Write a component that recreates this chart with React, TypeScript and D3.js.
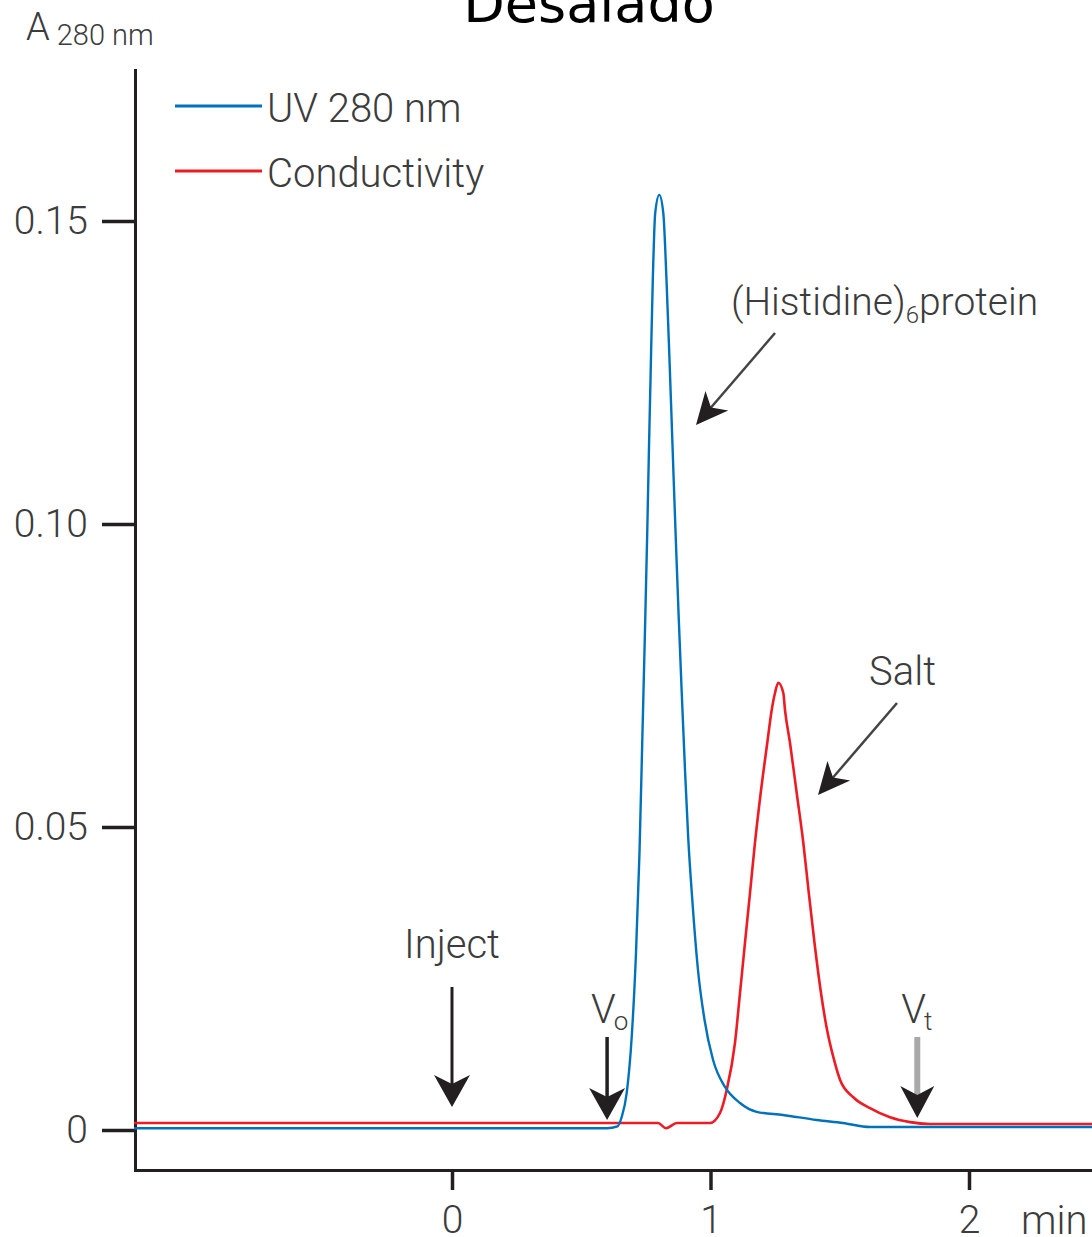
import { useEffect, useRef } from "react";
import * as d3 from "d3";

// UV 280 nm trace (time in min, absorbance)
const uvTime = [-1.23, 0.6, 0.64, 0.6565, 0.6758, 0.6952, 0.7118, 0.7253, 0.7362, 0.7466, 0.7555, 0.7621, 0.7679, 0.7768, 0.7861, 0.8019, 0.8174, 0.8298, 0.8418, 0.8487, 0.8576, 0.8669, 0.8774, 0.8878, 0.9014, 0.9137, 0.9304, 0.9516, 0.9768, 1.0097, 1.0561, 1.1141, 1.1787, 1.2805, 1.4108, 1.5126, 1.617, 1.849, 2.51];
const uvAbs = [0.0003, 0.0003, 0.0006, 0.00215, 0.0061, 0.01535, 0.0292, 0.0457, 0.0644, 0.0825, 0.099, 0.1127, 0.1238, 0.1403, 0.1513, 0.1543, 0.1513, 0.1403, 0.1266, 0.1183, 0.1073, 0.0962, 0.0842, 0.0731, 0.0594, 0.0483, 0.0375, 0.0264, 0.0182, 0.0116, 0.0071, 0.00446, 0.003, 0.00248, 0.00165, 0.00116, 0.0005, 0.0005, 0.0005];

// conductivity trace (same units as the plot)
const condTime = [-1.23, 0.797, 0.828, 0.87, 0.998, 1.0368, 1.0627, 1.0948, 1.1141, 1.1335, 1.1528, 1.1721, 1.1942, 1.2197, 1.2368, 1.2495, 1.2623, 1.2817, 1.2882, 1.3075, 1.3335, 1.359, 1.3803, 1.4023, 1.4275, 1.4488, 1.4778, 1.501, 1.5524, 1.617, 1.6944, 1.7718, 1.849, 2.51];
const condSignal = [0.00115, 0.00115, 0.0003, 0.00115, 0.00115, 0.0028, 0.0066, 0.0144, 0.0226, 0.0309, 0.0391, 0.0474, 0.0556, 0.0639, 0.0693, 0.0721, 0.0738, 0.0721, 0.0693, 0.0639, 0.0556, 0.0474, 0.0391, 0.0309, 0.0226, 0.017, 0.0116, 0.0083, 0.0054, 0.0036, 0.0021, 0.0013, 0.001, 0.001];

const xTickValues = [0, 1, 2];
const yTickValues = [0, 0.05, 0.1, 0.15];
const yTickLabels = ["0", "0.05", "0.10", "0.15"];
const seriesNames = ["UV 280 nm", "Conductivity"];
const seriesColors = ["#0072bc", "#ed1c24"];

// vertical markers: inject, void volume, total volume
const markerTimes = [0, 0.6, 1.8];
const markerMain = ["Inject", "V", "V"];
const markerSub = ["", "o", "t"];

const W = 1092;
const H = 1237;
const FONT = "Roboto, 'DejaVu Sans', sans-serif";
const INK = "#231f20";
const TXT = "#3c3c3c";

function arrow(g: any, x1: number, y1: number, x2: number, y2: number, shaftColor: string, shaftW: number, headL: number, headW: number) {
  const a = Math.atan2(y2 - y1, x2 - x1);
  const bx = x2 - Math.cos(a) * headL * 0.7;
  const by = y2 - Math.sin(a) * headL * 0.7;
  g.append("line")
    .attr("x1", x1).attr("y1", y1).attr("x2", bx).attr("y2", by)
    .attr("stroke", shaftColor).attr("stroke-width", shaftW);
  const pts: [number, number][] = [[0, 0], [-headL, -headW / 2], [-headL * 0.72, 0], [-headL, headW / 2]];
  const c = Math.cos(a), s = Math.sin(a);
  const p = pts.map(([u, v]) => [x2 + u * c - v * s, y2 + u * s + v * c]);
  g.append("path")
    .attr("d", "M" + p.map((q) => q.join(",")).join("L") + "Z")
    .attr("fill", INK);
}

export default function App() {
  const ref = useRef<SVGSVGElement>(null);

  useEffect(() => {
    const svg = d3.select(ref.current);
    svg.selectAll("*").remove();

    const x = d3.scaleLinear().domain([-1.2263, 2.5068]).range([135, 1100]);
    const y = d3.scaleLinear().domain([-0.0066, 0.1749]).range([1170, 70]);

    // title (cut at top in the original)
    svg.append("text")
      .attr("x", 589).attr("y", 22)
      .attr("text-anchor", "middle")
      .style("font", "54px 'DejaVu Sans', sans-serif")
      .attr("fill", "#000")
      .text("Desalado");

    // y axis label
    const yl = svg.append("text").attr("x", 26).attr("y", 40).attr("fill", TXT)
      .style("font-family", FONT).style("font-weight", 300);
    yl.append("tspan").attr("font-size", 38).text("A");
    yl.append("tspan").attr("dx", 7).attr("dy", 5).attr("font-size", 29).text("280 nm");

    // axes
    const yAxis = svg.append("g").attr("transform", "translate(135,0)")
      .call(d3.axisLeft(y).tickValues(yTickValues).tickFormat((d, i) => yTickLabels[i]).tickSize(33).tickSizeOuter(0).tickPadding(14));
    const xAxis = svg.append("g").attr("transform", "translate(0,1170)")
      .call(d3.axisBottom(x).tickValues(xTickValues).tickFormat(d3.format("d")).tickSize(20).tickSizeOuter(0).tickPadding(15));
    [yAxis, xAxis].forEach((ax) => {
      ax.select(".domain").attr("stroke", INK).attr("stroke-width", 3).attr("stroke-linecap", "square");
      ax.selectAll(".tick line").attr("stroke", INK).attr("stroke-width", 3.5);
      ax.selectAll(".tick text").attr("fill", TXT).style("font-family", FONT)
        .style("font-size", "39px").style("font-weight", 300);
    });
    svg.append("text")
      .attr("x", 1021).attr("y", 1234)
      .attr("fill", TXT).style("font", "300 40px " + FONT)
      .text("min");

    // traces
    const line = d3.line<[number, number]>()
      .x((d) => x(d[0])).y((d) => y(d[1]))
      .curve(d3.curveMonotoneX);
    const cond: [number, number][] = condTime.map((t, i) => [t, condSignal[i]]);
    const uv: [number, number][] = uvTime.map((t, i) => [t, uvAbs[i]]);
    svg.append("path").attr("d", line(cond)).attr("fill", "none")
      .attr("stroke", seriesColors[1]).attr("stroke-width", 2.6);
    svg.append("path").attr("d", line(uv)).attr("fill", "none")
      .attr("stroke", seriesColors[0]).attr("stroke-width", 2.4);

    // legend
    seriesNames.forEach((name, i) => {
      const ly = 106 + i * 65;
      svg.append("line").attr("x1", 175).attr("x2", 262).attr("y1", ly).attr("y2", ly)
        .attr("stroke", seriesColors[i]).attr("stroke-width", 3);
      svg.append("text").attr("x", 267).attr("y", ly + 16)
        .attr("fill", TXT).style("font", "300 40px " + FONT).text(name);
    });

    // markers
    const ann = svg.append("g");
    const y0 = y(0);
    markerTimes.forEach((t, i) => {
      const mx = x(t);
      if (i === 0) {
        ann.append("text").attr("x", mx).attr("y", 958).attr("text-anchor", "middle")
          .attr("fill", TXT).style("font", "300 40px " + FONT).text(markerMain[i]);
        arrow(ann, mx, 987, mx, y0 - 23, INK, 3, 32, 36);
      } else {
        const tx = ann.append("text").attr("x", mx - 16).attr("y", 1023)
          .attr("fill", TXT).style("font-family", FONT).style("font-weight", 300).attr("font-size", 40);
        tx.append("tspan").text(markerMain[i]);
        tx.append("tspan").attr("dx", -2).attr("dy", 7).attr("font-size", 26).text(markerSub[i]);
        const gray = i === 2;
        arrow(ann, mx, 1037, mx, y0 - (gray ? 12 : 10), gray ? "#a9a9a9" : INK, gray ? 6 : 3.5, 32, gray ? 34 : 36);
      }
    });

    // peak annotations
    const hp = ann.append("text").attr("x", 731).attr("y", 315)
      .attr("fill", TXT).style("font-family", FONT).style("font-weight", 300).attr("font-size", 39);
    hp.append("tspan").text("(Histidine)");
    hp.append("tspan").attr("dy", 8).attr("font-size", 24).text("6");
    hp.append("tspan").attr("dy", -8).text("protein");
    arrow(ann, 775, 333, 696, 425, "#444", 2.5, 32, 30);

    ann.append("text").attr("x", 869).attr("y", 685)
      .attr("fill", TXT).style("font", "300 40px " + FONT).text("Salt");
    arrow(ann, 897, 703, 818, 795, "#444", 2.5, 32, 30);
  }, []);

  return (
    <svg ref={ref} width={W} height={H}
      style={{ position: "absolute", left: 0, top: 0, background: "#fff" }} />
  );
}
